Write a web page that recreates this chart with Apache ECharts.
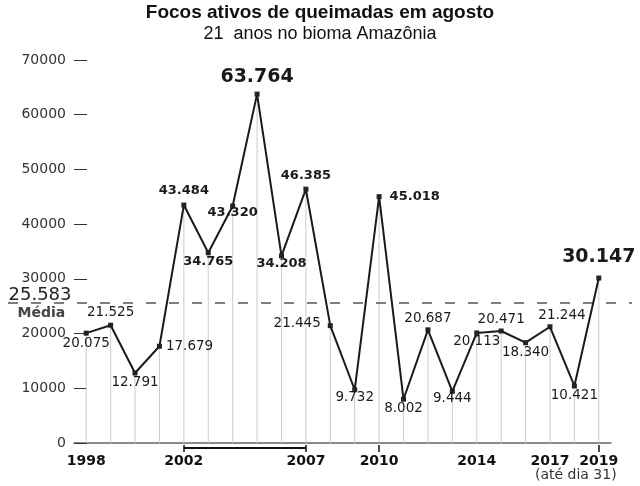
<!DOCTYPE html>
<html><head><meta charset="utf-8">
<script src="https://cdn.jsdelivr.net/npm/echarts@6/dist/echarts.min.js"></script>
<style>html,body{margin:0;padding:0;background:#fff}#c{width:640px;height:486px}</style>
</head><body><div id="c"></div>
<script>
// ---- data ----
const years = ['1998','1999','2000','2001','2002','2003','2004','2005','2006','2007','2008','2009','2010','2011','2012','2013','2014','2015','2016','2017','2018','2019'];
const focos = [20075, 21525, 12791, 17679, 43484, 34765, 43320, 63764, 34208, 46385, 21445, 9732, 45018, 8002, 20687, 9444, 20113, 20471, 18340, 21244, 10421, 30147];
const media = 25583;
const yTickValues = [0, 10000, 20000, 30000, 40000, 50000, 60000, 70000];
const shownYears = ['1998','2002','2007','2010','2014','2017','2019'];
const tickYears = ['2002','2007','2010','2019'];
const bracketFrom = '2002', bracketTo = '2007';
const title = 'Focos ativos de queimadas em agosto';
const subtitle = '21  anos no bioma Amazônia';
const footNote = '(até dia 31)';
const mediaLabel = 'Média';

// ---- label styling (not data) ----
const labelPlace = ['bottom','top','bottom','right','top','bottom','bottom','top','bottom','top','left','bottom','right','bottom','top','bottom','bottom','top','bottom','top','bottom','top'];
const labelDist  = [1,3,0,4,5,0,-2,5,-1,5,7,-2,8,0,2,-2,-1,2,0,2,0,9];
const boldIdx = [4,5,6,8,9,12];
const bigIdx = [7,21];

function fmt(v){ return String(v).replace(/\B(?=(\d{3})+(?!\d))/g,'.'); }

const F = 'DejaVu Sans';
const chart = echarts.init(document.getElementById('c'));

const lineData = focos.map((v,i)=>{
  const big = bigIdx.includes(i), bold = boldIdx.includes(i);
  return {
    value: v,
    label: {
      show: true,
      formatter: p => fmt(p.value),
      position: labelPlace[i],
      distance: labelDist[i],
      offset: i===19 ? [12,0] : (i===10 ? [0,-2] : [0,0]),
      fontFamily: F,
      fontSize: big ? 19 : (bold ? 13 : 13.5),
      fontWeight: (big||bold) ? 'bold' : 'normal',
      color: '#1a1a1a'
    }
  };
});

const bracketData = years.map(y => (y>=bracketFrom && y<=bracketTo) ? 1 : null);

chart.setOption({
  backgroundColor: '#fff',
  animation: false,
  title: {
    text: title, subtext: subtitle, left: 'center', top: -2, itemGap: 3,
    textStyle: {fontFamily: 'Liberation Sans', fontSize: 19, fontWeight: 'bold', color: '#111'},
    subtextStyle: {fontFamily: 'Liberation Sans', fontSize: 18, color: '#111'}
  },
  grid: [
    {left: 74, right: 29, top: 60, bottom: 43},
    {left: 8, right: 8, top: 60, bottom: 43},
    {left: 74, right: 29, top: 448, bottom: 34}
  ],
  xAxis: [
    {
      type: 'category', data: years, boundaryGap: true, gridIndex: 0,
      axisLine: {show: true, lineStyle: {color: '#666', width: 1.5}},
      axisTick: {show: false},
      splitLine: {show: false},
      axisLabel: {
        interval: (i, v) => shownYears.includes(v),
        fontFamily: F, fontSize: 14, fontWeight: 'bold', color: '#111', margin: 11
      }
    },
    {type: 'value', gridIndex: 1, min: 0, max: 1, show: false},
    {
      type: 'category', data: years, boundaryGap: true, gridIndex: 2,
      axisLine: {show: false},
      axisTick: {show: true, inside: true, length: 7, alignWithLabel: true,
        interval: (i, v) => tickYears.includes(v),
        lineStyle: {color: '#111', width: 1.5}},
      axisLabel: {
        interval: (i, v) => v === '2019',
        formatter: () => footNote,
        fontFamily: F, fontSize: 14, color: '#333', margin: 16,
        padding: [0, 46, 0, 0]
      }
    }
  ],
  yAxis: [
    {
      type: 'value', gridIndex: 0, min: 0, max: 70000, interval: 10000,
      axisLine: {show: false},
      axisTick: {show: true, inside: true, length: 13, lineStyle: {color: '#333', width: 1}},
      splitLine: {show: false},
      axisLabel: {fontFamily: F, fontSize: 14, color: '#333', margin: 8,
        formatter: v => yTickValues.includes(v) ? String(v) : ''}
    },
    {type: 'value', gridIndex: 1, min: 0, max: 70000, show: false},
    {type: 'value', gridIndex: 2, min: 0, max: 1, show: false}
  ],
  series: [
    {
      type: 'bar', xAxisIndex: 0, yAxisIndex: 0, data: focos, barWidth: 1,
      itemStyle: {color: '#cccccc'}, silent: true, z: 1
    },
    {
      type: 'line', xAxisIndex: 1, yAxisIndex: 1, z: 2, silent: true,
      data: [
        {value: [0, media], label: {
          show: true, position: 'right', distance: 0,
          formatter: '{a|' + fmt(media) + '}\n{b|' + mediaLabel + '}',
          rich: {
            a: {fontFamily: F, fontSize: 18, color: '#222', lineHeight: 20},
            b: {fontFamily: F, fontSize: 14, fontWeight: 'bold', color: '#444', lineHeight: 16, padding: [0,0,0,9]}
          }
        }},
        {value: [1, media]}
      ],
      symbol: 'circle', symbolSize: 1, showSymbol: true,
      itemStyle: {color: 'transparent'},
      lineStyle: {color: '#555', width: 1.5, type: [10, 13]}
    },
    {
      type: 'line', xAxisIndex: 0, yAxisIndex: 0, data: lineData, z: 5,
      symbol: 'rect', symbolSize: 5,
      itemStyle: {color: '#222'},
      lineStyle: {color: '#1a1a1a', width: 2}
    },
    {
      type: 'line', xAxisIndex: 2, yAxisIndex: 2, data: bracketData, z: 5,
      symbol: 'none', silent: true,
      lineStyle: {color: '#111', width: 2}
    }
  ]
});
</script></body></html>
